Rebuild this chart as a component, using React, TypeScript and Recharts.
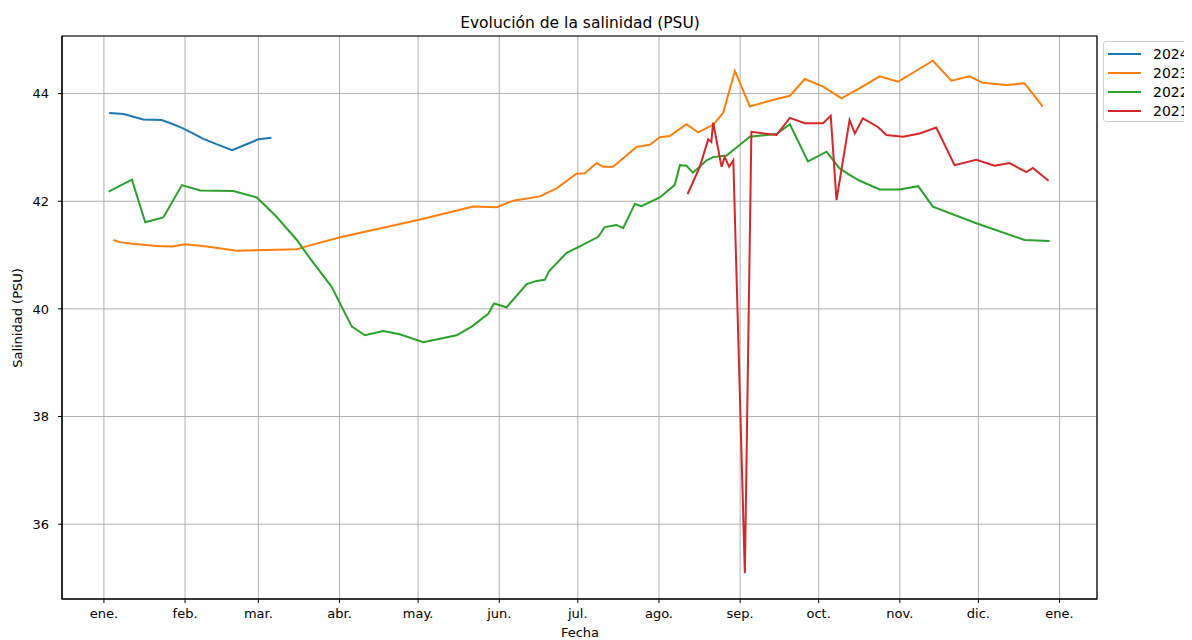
import React from 'react';
import { LineChart, Line, XAxis, YAxis, CartesianGrid, ReferenceArea } from 'recharts';

const monthTicks = [0, 31, 59, 90, 120, 151, 181, 212, 243, 273, 304, 334, 365];
const monthLabels = ['ene.', 'feb.', 'mar.', 'abr.', 'may.', 'jun.', 'jul.', 'ago.', 'sep.', 'oct.', 'nov.', 'dic.', 'ene.'];
const yTicks = [36, 38, 40, 42, 44];

const days2024 = [2, 7.5, 15, 22, 26, 30, 34, 38, 43, 49, 54, 59, 64];
const sal2024 = [43.64, 43.62, 43.52, 43.51, 43.44, 43.36, 43.26, 43.16, 43.06, 42.95, 43.05, 43.15, 43.18];

const days2023 = [3.7, 6, 10.7, 20.2, 26, 31, 39.3, 50.8, 58.4, 73.7, 78.7, 90.2, 120, 141, 150, 156.3, 166.5, 172.9, 180.5, 183.7, 188.2, 190.7, 194.5, 203.4, 208.5, 212.3, 216.1, 222.5, 226.9, 232.7, 236.5, 241, 246.7, 256.9, 262, 267.7, 274.7, 281.7, 288.7, 296.3, 303.3, 316.6, 323.7, 330.6, 335.7, 344.7, 351.6, 358.6];
const sal2023 = [41.28, 41.24, 41.21, 41.17, 41.16, 41.2, 41.16, 41.08, 41.09, 41.11, 41.18, 41.33, 41.65, 41.9, 41.89, 42.01, 42.09, 42.24, 42.51, 42.52, 42.71, 42.64, 42.64, 43.01, 43.05, 43.19, 43.21, 43.43, 43.28, 43.42, 43.64, 44.42, 43.76, 43.9, 43.96, 44.27, 44.13, 43.91, 44.1, 44.32, 44.22, 44.61, 44.24, 44.32, 44.2, 44.16, 44.19, 43.76];

const days2022 = [1.8, 10.7, 15.8, 22.7, 29.8, 36.8, 49.5, 58.4, 65.4, 73.7, 78.7, 87, 90.2, 94.7, 99.7, 106.7, 113, 122, 134.7, 140.5, 146.8, 149, 153.8, 161.5, 165.3, 168.4, 170, 176.7, 181.8, 188.8, 191.3, 195.8, 198.3, 202.8, 205.3, 212.3, 218, 220, 222.5, 225, 230.2, 232.7, 237.8, 242.9, 246.7, 256.9, 262, 268.9, 276, 281, 284.8, 288.7, 296.3, 303.9, 311, 316.6, 333.2, 351.6, 361.2];
const sal2022 = [42.18, 42.4, 41.61, 41.7, 42.3, 42.2, 42.19, 42.07, 41.74, 41.28, 40.94, 40.41, 40.1, 39.67, 39.51, 39.59, 39.53, 39.38, 39.51, 39.67, 39.91, 40.1, 40.03, 40.46, 40.52, 40.54, 40.7, 41.04, 41.16, 41.34, 41.52, 41.56, 41.5, 41.95, 41.91, 42.07, 42.3, 42.67, 42.66, 42.53, 42.76, 42.82, 42.85, 43.05, 43.2, 43.25, 43.43, 42.74, 42.92, 42.61, 42.49, 42.38, 42.22, 42.22, 42.28, 41.9, 41.59, 41.28, 41.26];

const days2021 = [222.9, 227.6, 230.8, 232, 232.7, 235.9, 237.1, 238.8, 240.4, 244.8, 247.3, 256.9, 262, 267.7, 274.7, 277.6, 279.8, 284.8, 286.8, 289.9, 295.6, 298.9, 305.2, 311.6, 317.9, 324.9, 333.2, 340.2, 345.9, 352.3, 354.8, 360.8];
const sal2021 = [42.13, 42.64, 43.15, 43.1, 43.46, 42.64, 42.82, 42.64, 42.76, 35.09, 43.29, 43.23, 43.55, 43.45, 43.45, 43.59, 42.02, 43.51, 43.26, 43.54, 43.38, 43.23, 43.2, 43.26, 43.37, 42.67, 42.77, 42.66, 42.71, 42.54, 42.62, 42.38];

const seriesNames = ['2024', '2023', '2022', '2021'];
const seriesColors = ['#1f77b4', '#ff7f0e', '#2ca02c', '#d62728'];
const seriesDays = [days2024, days2023, days2022, days2021];
const seriesVals = [sal2024, sal2023, sal2022, sal2021];

const X_DOMAIN: [number, number] = [-16, 379.3];
const Y_DOMAIN: [number, number] = [34.61, 45.07];

const FONT = '"DejaVu Sans", Verdana, sans-serif';

const series = seriesNames.map((name, i) => ({
  name,
  color: seriesColors[i],
  data: seriesDays[i].map((d, j) => ({ d, v: seriesVals[i][j] })),
}));

export default function App() {
  return (
    <div style={{ position: 'relative', width: 1184, height: 632, overflow: 'hidden', fontFamily: FONT, background: '#fff' }}>
      <LineChart width={1184} height={632} margin={{ top: 28, right: 95, bottom: 0, left: 0 }}>
        <CartesianGrid stroke="#a8a8a8" strokeWidth={0.9} />
        <XAxis
          type="number"
          dataKey="d"
          domain={X_DOMAIN}
          allowDataOverflow
          ticks={monthTicks}
          interval={0}
          tickFormatter={(v: number) => monthLabels[monthTicks.indexOf(v)]}
          height={41}
          tickSize={4}
          tickMargin={6}
          axisLine={{ stroke: '#000' }}
          tickLine={{ stroke: '#000' }}
          tick={{ fill: '#000', fontSize: 13, fontFamily: FONT }}
        />
        <YAxis
          type="number"
          domain={Y_DOMAIN}
          allowDataOverflow
          ticks={yTicks}
          interval={0}
          width={54}
          tickSize={4}
          tickMargin={9}
          axisLine={{ stroke: '#000' }}
          tickLine={{ stroke: '#000' }}
          tick={{ fill: '#000', fontSize: 13, fontFamily: FONT }}
        />
        <ReferenceArea x1={X_DOMAIN[0]} x2={X_DOMAIN[1]} y1={Y_DOMAIN[0]} y2={Y_DOMAIN[1]} fill="none" stroke="#000" strokeWidth={1.2} />
        {series.map((s) => (
          <Line
            key={s.name}
            data={s.data}
            dataKey="v"
            name={s.name}
            type="linear"
            stroke={s.color}
            strokeWidth={2}
            dot={false}
            activeDot={false}
            isAnimationActive={false}
          />
        ))}
      </LineChart>
      <div style={{ position: 'absolute', left: 572, top: 15, transform: 'translate(-50%, -50%)', fontSize: 15.5, whiteSpace: 'nowrap', color: '#000' }}>
        Evolución de la salinidad (PSU)
      </div>
      <div style={{ position: 'absolute', left: 572, top: 624, transform: 'translate(-50%, -50%)', fontSize: 13, whiteSpace: 'nowrap', color: '#000' }}>
        Fecha
      </div>
      <div style={{ position: 'absolute', left: 9, top: 310, transform: 'translate(-50%, -50%) rotate(-90deg)', fontSize: 13, whiteSpace: 'nowrap', color: '#000' }}>
        Salinidad (PSU)
      </div>
      <div style={{ position: 'absolute', left: 1095, top: 33, width: 100, height: 81, border: '1px solid #d0d0d0', borderRadius: 3, background: '#fff', boxSizing: 'border-box' }}>
        {series.map((s) => (
          <div key={s.name} style={{ position: 'absolute', left: 4, top: 4 + seriesNames.indexOf(s.name) * 19, height: 16, display: 'flex', alignItems: 'center' }}>
            <div style={{ width: 33, height: 2, background: s.color }} />
            <span style={{ marginLeft: 12, fontSize: 14, color: '#000' }}>{s.name}</span>
          </div>
        ))}
      </div>
    </div>
  );
}
